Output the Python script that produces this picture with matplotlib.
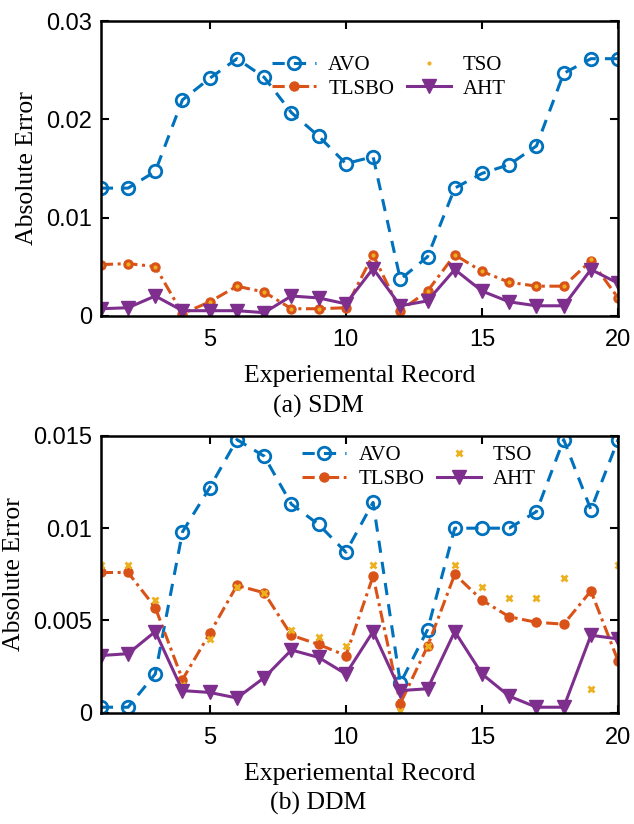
import matplotlib
matplotlib.use('Agg')
import matplotlib.pyplot as plt
import numpy as np

# experiment index
records = np.arange(1, 21)

# (a) SDM absolute errors
sdm_avo = [0.0130, 0.0130, 0.0147, 0.0220, 0.0242, 0.0262, 0.0243, 0.0207, 0.0183, 0.0155,
           0.0162, 0.0037, 0.0060, 0.0130, 0.0145, 0.0154, 0.0173, 0.0247, 0.0262, 0.0262]
sdm_tlsbo = [0.0052, 0.0053, 0.0050, 0.0002, 0.0014, 0.0030, 0.0024, 0.0007, 0.0007, 0.0008,
             0.0062, 0.0005, 0.0025, 0.0062, 0.0045, 0.0034, 0.0030, 0.0030, 0.0056, 0.0018]
sdm_tso = [0.0052, 0.0053, 0.0050, 0.0002, 0.0014, 0.0030, 0.0024, 0.0007, 0.0007, 0.0008,
           0.0062, 0.0005, 0.0025, 0.0062, 0.0045, 0.0034, 0.0030, 0.0030, 0.0058, 0.0018]
sdm_aht = [0.0007, 0.0008, 0.0020, 0.0005, 0.0005, 0.0005, 0.0003, 0.0020, 0.0018, 0.0012,
           0.0048, 0.0010, 0.0015, 0.0047, 0.0025, 0.0014, 0.0010, 0.0010, 0.0047, 0.0033]

# (b) DDM absolute errors
ddm_avo = [0.0003, 0.0003, 0.0021, 0.0098, 0.0122, 0.0148, 0.0139, 0.0113, 0.0102, 0.0087,
           0.0114, 0.0016, 0.0045, 0.0100, 0.0100, 0.0100, 0.0109, 0.0148, 0.0110, 0.0148]
ddm_tlsbo = [0.0076, 0.0076, 0.0057, 0.0018, 0.0043, 0.0069, 0.0065, 0.0042, 0.0037, 0.0031,
             0.0074, 0.0005, 0.0036, 0.0075, 0.0061, 0.0052, 0.0049, 0.0048, 0.0066, 0.0028]
ddm_tso = [0.0080, 0.0080, 0.0061, 0.0015, 0.0040, 0.0068, 0.0065, 0.0045, 0.0041, 0.0036,
           0.0080, 0.0001, 0.0036, 0.0080, 0.0068, 0.0062, 0.0062, 0.0073, 0.0013, 0.0080]
ddm_aht = [0.0031, 0.0032, 0.0044, 0.0012, 0.0011, 0.0008, 0.0019, 0.0034, 0.0030, 0.0021,
           0.0044, 0.0012, 0.0013, 0.0044, 0.0021, 0.0009, 0.0003, 0.0003, 0.0042, 0.0040]

serif = 'Liberation Serif'
sans = 'Liberation Sans'

fig = plt.figure(figsize=(6.34, 8.24), dpi=100)
ax1 = fig.add_axes([0.159, 0.617, 0.816, 0.357])
ax2 = fig.add_axes([0.159, 0.135, 0.816, 0.336])


def draw(ax, avo, tlsbo, tso, aht, tso_marker, tso_size, ymax, yticks, ylabels, leg_anchor):
    ax.plot(records, avo, linestyle=(0, (4, 3)), color='#0072BD', lw=2.2,
            marker='o', ms=9, mfc='none', mew=2, label='AVO')
    ax.plot(records, tlsbo, linestyle=(0, (4, 1.5, 1, 1.5)), color='#D95319', lw=2.2,
            marker='o', ms=6.5, label='TLSBO')
    ax.plot(records, tso, linestyle='none', color='#EDB120',
            marker=tso_marker, ms=tso_size, mew=2, label='TSO')
    ax.plot(records, aht, linestyle='-', color='#7E2F8E', lw=2.2,
            marker='v', ms=10, mfc='#7E2F8E', mec='#7E2F8E', label='AHT')
    ax.set_xlim(1, 20)
    ax.set_ylim(0, ymax)
    ax.set_xticks([5, 10, 15, 20])
    ax.set_yticks(yticks)
    ax.set_yticklabels(ylabels)
    ax.tick_params(direction='in', top=True, right=True, length=6, width=1.5,
                   labelsize=17)
    ax.tick_params(axis='x', pad=10)
    ax.tick_params(axis='y', pad=6)
    for lab in ax.get_xticklabels() + ax.get_yticklabels():
        lab.set_fontfamily(sans)
    for s in ax.spines.values():
        s.set_linewidth(1.8)
    ax.set_xlabel('Experiemental Record', fontsize=18.5, fontfamily=serif, labelpad=10)
    ax.set_ylabel('Absolute Error', fontsize=18.5, fontfamily=serif, labelpad=6)
    ax.legend(ncol=2, frameon=False, loc='upper left', bbox_to_anchor=leg_anchor,
              prop={'family': serif, 'size': 15}, handlelength=2.1,
              handletextpad=0.6, columnspacing=0.6, labelspacing=0.2,
              borderaxespad=0, borderpad=0)


draw(ax1, sdm_avo, sdm_tlsbo, sdm_tso, sdm_aht, '.', 2, 0.03,
     [0, 0.01, 0.02, 0.03], ['0', '0.01', '0.02', '0.03'], (0.331, 0.885))
draw(ax2, ddm_avo, ddm_tlsbo, ddm_tso, ddm_aht, 'x', 5, 0.015,
     [0, 0.005, 0.01, 0.015], ['0', '0.005', '0.01', '0.015'], (0.389, 0.965))

fig.text(0.502, 0.507, '(a) SDM', ha='center', va='center', fontsize=18.5, fontfamily=serif)
fig.text(0.502, 0.025, '(b) DDM', ha='center', va='center', fontsize=18.5, fontfamily=serif)

fig.savefig('out.png', dpi=100)
